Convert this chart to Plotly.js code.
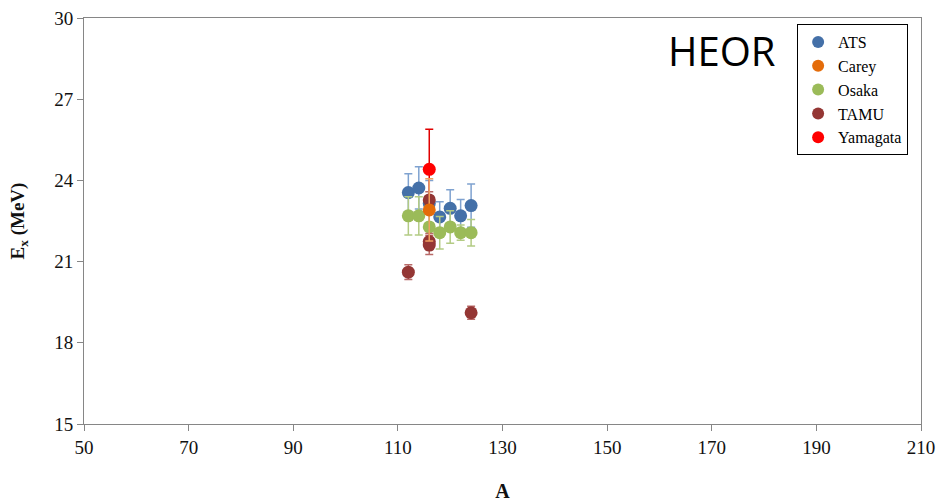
<!DOCTYPE html>
<html>
<head>
<meta charset="utf-8">
<script src="https://cdn.plot.ly/plotly-3.0.1.min.js"></script>
<style>html,body{margin:0;padding:0;background:#fff;}#chart{width:941px;height:502px;}</style>
</head>
<body>
<div id="chart"></div>
<script>
// ATS
const atsA   = [112, 114, 116, 118, 120, 122, 124];
const atsE   = [23.55, 23.72, 23.15, 22.65, 22.97, 22.69, 23.07];
const atsErr = [0.70, 0.78, 0.85, 0.56, 0.68, 0.60, 0.80];
// Carey
const careyA   = [116];
const careyE   = [22.91];
const careyErr = [1.15];
// Osaka
const osakaA   = [112, 114, 116, 118, 120, 122, 124];
const osakaE   = [22.69, 22.69, 22.28, 22.07, 22.28, 22.07, 22.07];
const osakaErr = [0.71, 0.71, 0.60, 0.60, 0.60, 0.28, 0.49];
// TAMU
const tamuA   = [112, 116, 116, 116, 124];
const tamuE   = [20.61, 23.28, 21.74, 21.61, 19.11];
const tamuErr = [0.27, 0.30, 0.30, 0.35, 0.24];
// Yamagata
const yamaA   = [116];
const yamaE   = [24.41];
const yamaErr = [1.48];

const xTicks = [50, 70, 90, 110, 130, 150, 170, 190, 210];
const yTicks = [15, 18, 21, 24, 27, 30];

function tr(name, x, y, err, color, ecolor, rank) {
  return {
    type: 'scatter', mode: 'markers', name: name, x: x, y: y,
    marker: {color: color, size: 13},
    error_y: {type: 'data', array: err, visible: true, color: ecolor, thickness: 1.5, width: 4},
    legendrank: rank
  };
}

const data = [
  tr('ATS', atsA, atsE, atsErr, '#4470A8', '#7FA2D0', 1),
  tr('Osaka', osakaA, osakaE, osakaErr, '#9BBB59', '#B3CB84', 3),
  tr('Yamagata', yamaA, yamaE, yamaErr, '#FF0000', '#E00000', 5),
  tr('TAMU', tamuA, tamuE, tamuErr, '#943634', '#B86A68', 4),
  tr('Carey', careyA, careyE, careyErr, '#E46C0A', '#F0A060', 2)
];

const serif = '"Liberation Serif", "Times New Roman", serif';
const layout = {
  width: 941, height: 502,
  margin: {l: 84, r: 20, t: 18, b: 78},
  paper_bgcolor: '#fff', plot_bgcolor: '#fff',
  showlegend: true,
  legend: {
    x: 0.852, y: 0.985, xanchor: 'left', yanchor: 'top',
    bordercolor: '#000', borderwidth: 1, bgcolor: '#fff',
    font: {family: serif, size: 16, color: '#000'},
    itemsizing: 'constant', tracegroupgap: 0
  },
  xaxis: {
    range: [50, 210], tickvals: xTicks, ticktext: xTicks.map(String),
    showgrid: false, zeroline: false,
    showline: true, linecolor: '#868686', linewidth: 1, mirror: true,
    ticks: 'outside', ticklen: 6, tickcolor: '#868686',
    tickfont: {family: serif, size: 19, color: '#111'},
    title: {text: '<b>A</b>', font: {family: serif, size: 20, color: '#111'}, standoff: 28}
  },
  yaxis: {
    range: [15, 30], tickvals: yTicks, ticktext: yTicks.map(String),
    showgrid: false, zeroline: false,
    showline: true, linecolor: '#868686', linewidth: 1, mirror: true,
    ticks: 'outside', ticklen: 6, tickcolor: '#868686',
    tickfont: {family: serif, size: 19, color: '#111'},
    title: {text: '<b>E<sub>x</sub> (MeV)</b>', font: {family: serif, size: 19, color: '#111'}, standoff: 24}
  },
  annotations: [{
    text: 'HEOR', xref: 'paper', yref: 'paper', x: 0.762, y: 0.921,
    xanchor: 'center', yanchor: 'middle', showarrow: false,
    font: {family: '"Open Sans", sans-serif', size: 40, color: '#000'}
  }]
};

Plotly.newPlot('chart', data, layout, {displayModeBar: false, staticPlot: true});
</script>
</body>
</html>
